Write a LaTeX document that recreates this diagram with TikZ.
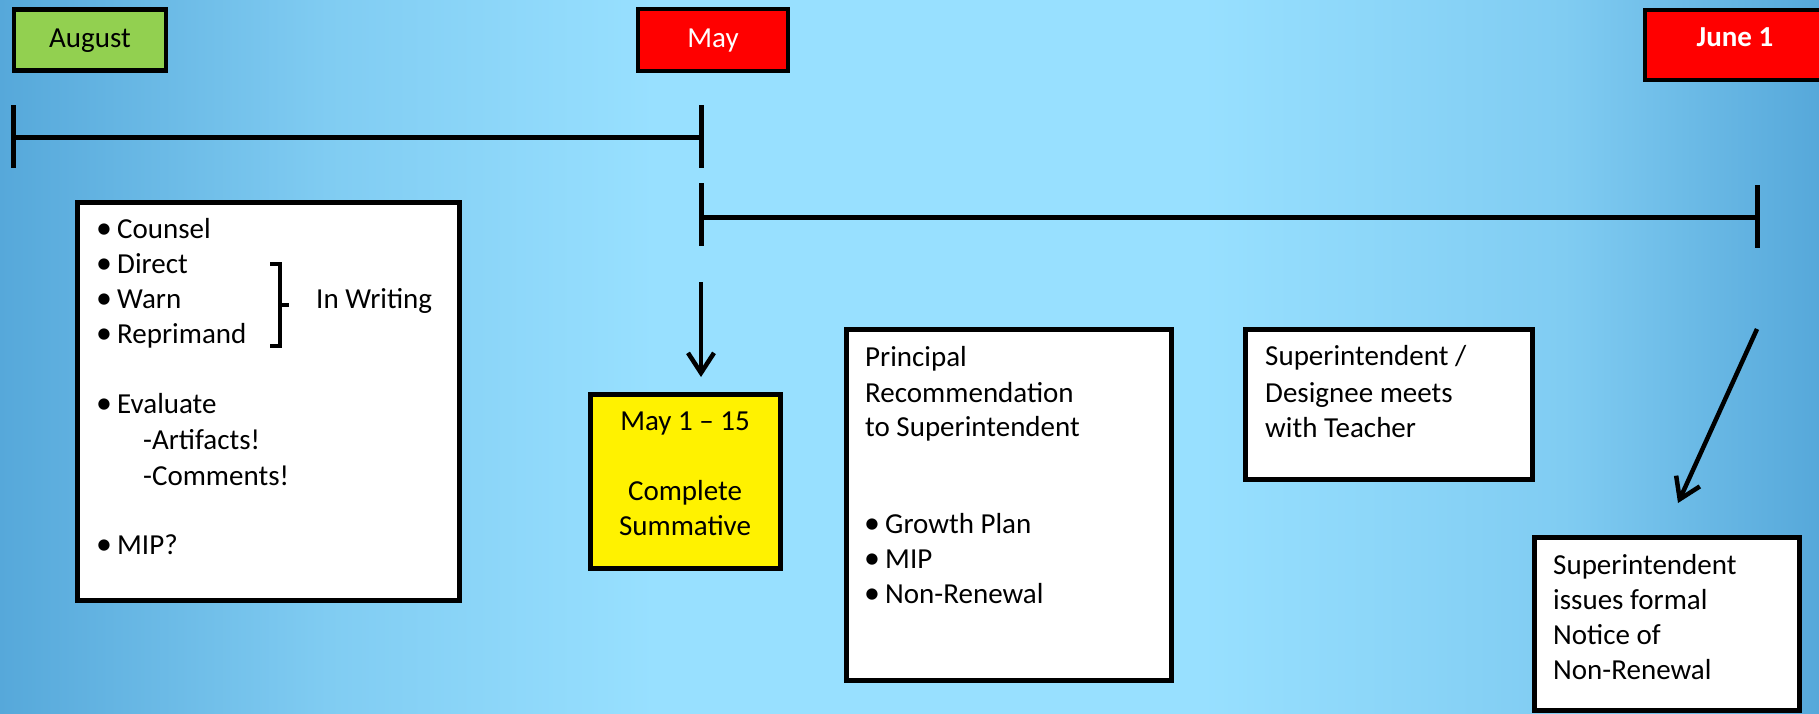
\documentclass[tikz,border=0pt]{standalone}
\usepackage{fontspec}
\setmainfont{Carlito}
\usetikzlibrary{arrows.meta}
\definecolor{bgdark}{RGB}{86,168,218}
\definecolor{bgmid}{RGB}{128,204,242}
\definecolor{bglight}{RGB}{152,224,255}
\definecolor{augreen}{RGB}{146,208,80}
\pgfdeclarehorizontalshading{bgshade}{100bp}{color(0bp)=(bgdark); color(25bp)=(bgdark); color(34bp)=(bgmid); color(43bp)=(bglight); color(58bp)=(bglight); color(68bp)=(bgmid); color(75bp)=(bgdark); color(100bp)=(bgdark)}
\newcommand{\bul}{\makebox[21pt][l]{\raisebox{-0.8pt}{\scalebox{1.1}{•}}}}
\begin{document}
\begin{tikzpicture}[x=1pt,y=-1pt,
  box/.style={draw=black, line width=4.5pt, rectangle, inner sep=0pt},
  txt/.style={anchor=base west, inner sep=0pt, font=\fontsize{29}{35}\selectfont},
  ctxt/.style={anchor=base, inner sep=0pt, font=\fontsize{29}{35}\selectfont},
  tline/.style={line width=5pt},
  arr/.style={line width=4.5pt, -{Straight Barb[length=20pt,width=26pt]}}]
\useasboundingbox (0,0) rectangle (1819,713);
\shade[shading=bgshade] (0,0) rectangle (1819,713);

% month boxes
\node[box, fill=augreen, minimum width=152pt, minimum height=61pt] (aug) at (90,40) {};
\node[ctxt] (augt) at (90,47) {August};
\node[box, fill=red, minimum width=150pt, minimum height=62pt] (may) at (713,40) {};
\node[ctxt, text=white] (mayt) at (713,47) {May};
\node[box, fill=red, minimum width=185pt, minimum height=70pt] (jun) at (1737.5,45) {};
\node[ctxt, text=white, font=\fontsize{29}{35}\selectfont\bfseries] (junt) at (1735,46) {June 1};

% timelines
\coordinate (t1a) at (13,137);
\coordinate (t1b) at (701,137);
\draw[tline] (t1a) -- (t1b);
\draw[tline] (13,105) -- (13,168);
\draw[tline] (701,105) -- (701,168);
\coordinate (t2a) at (701,217);
\coordinate (t2b) at (1757,217);
\draw[tline] (t2a) -- (t2b);
\draw[tline] (701,183) -- (701,246);
\draw[tline] (1757,185) -- (1757,248);

% left box
\node[box, fill=white, minimum width=382pt, minimum height=398pt] (left) at (268.5,401.5) {};
\node[txt] (l1) at (96,238) {\bul Counsel};
\node[txt] (l2) at (96,273) {\bul Direct};
\node[txt] (l3) at (96,308) {\bul Warn};
\node[txt] (l4) at (96,343) {\bul Reprimand};
\node[txt] (l5) at (96,413) {\bul Evaluate};
\node[txt] (l6) at (143,449) {-Artifacts!};
\node[txt] (l7) at (143,485) {-Comments!};
\node[txt] (l8) at (96,554) {\bul MIP?};
\draw[line width=4pt] (270,264) -- (280,264) -- (280,346) -- (270,346);
\draw[line width=4pt] (280,305) -- (289,305);
\node[txt] (inw) at (316,308) {In Writing};

% yellow box
\coordinate (a1s) at (701,282);
\coordinate (a1e) at (701,377);
\draw[arr] (a1s) -- (a1e);
\node[box, fill=yellow, minimum width=190pt, minimum height=174pt] (yel) at (685.5,481.5) {};
\node[ctxt] (y1) at (685,430) {May 1 – 15};
\node[ctxt] (y2) at (685,500) {Complete};
\node[ctxt] (y3) at (685,535) {Summative};

% principal box
\node[box, fill=white, minimum width=325pt, minimum height=351pt] (prin) at (1009,505) {};
\node[txt] (p1) at (865,366) {Principal};
\node[txt] (p2) at (865,402) {Recommendation};
\node[txt] (p3) at (865,436) {to Superintendent};
\node[txt] (p4) at (864,533) {\bul Growth Plan};
\node[txt] (p5) at (864,568) {\bul MIP};
\node[txt] (p6) at (864,603) {\bul Non-Renewal};

% superintendent box
\node[box, fill=white, minimum width=287pt, minimum height=150pt] (sup) at (1389,404.5) {};
\node[txt] (s1) at (1265,365) {Superintendent /};
\node[txt] (s2) at (1265,402) {Designee meets};
\node[txt] (s3) at (1265,437) {with Teacher};

% notice box
\coordinate (a2s) at (1757,329);
\coordinate (a2e) at (1678,503);
\draw[arr] (a2s) -- (a2e);
\node[box, fill=white, minimum width=265pt, minimum height=173pt] (note) at (1667,624) {};
\node[txt] (n1) at (1553,574) {Superintendent};
\node[txt] (n2) at (1553,609) {issues formal};
\node[txt] (n3) at (1553,644) {Notice of};
\node[txt] (n4) at (1553,679) {Non-Renewal};
\end{tikzpicture}
\end{document}
